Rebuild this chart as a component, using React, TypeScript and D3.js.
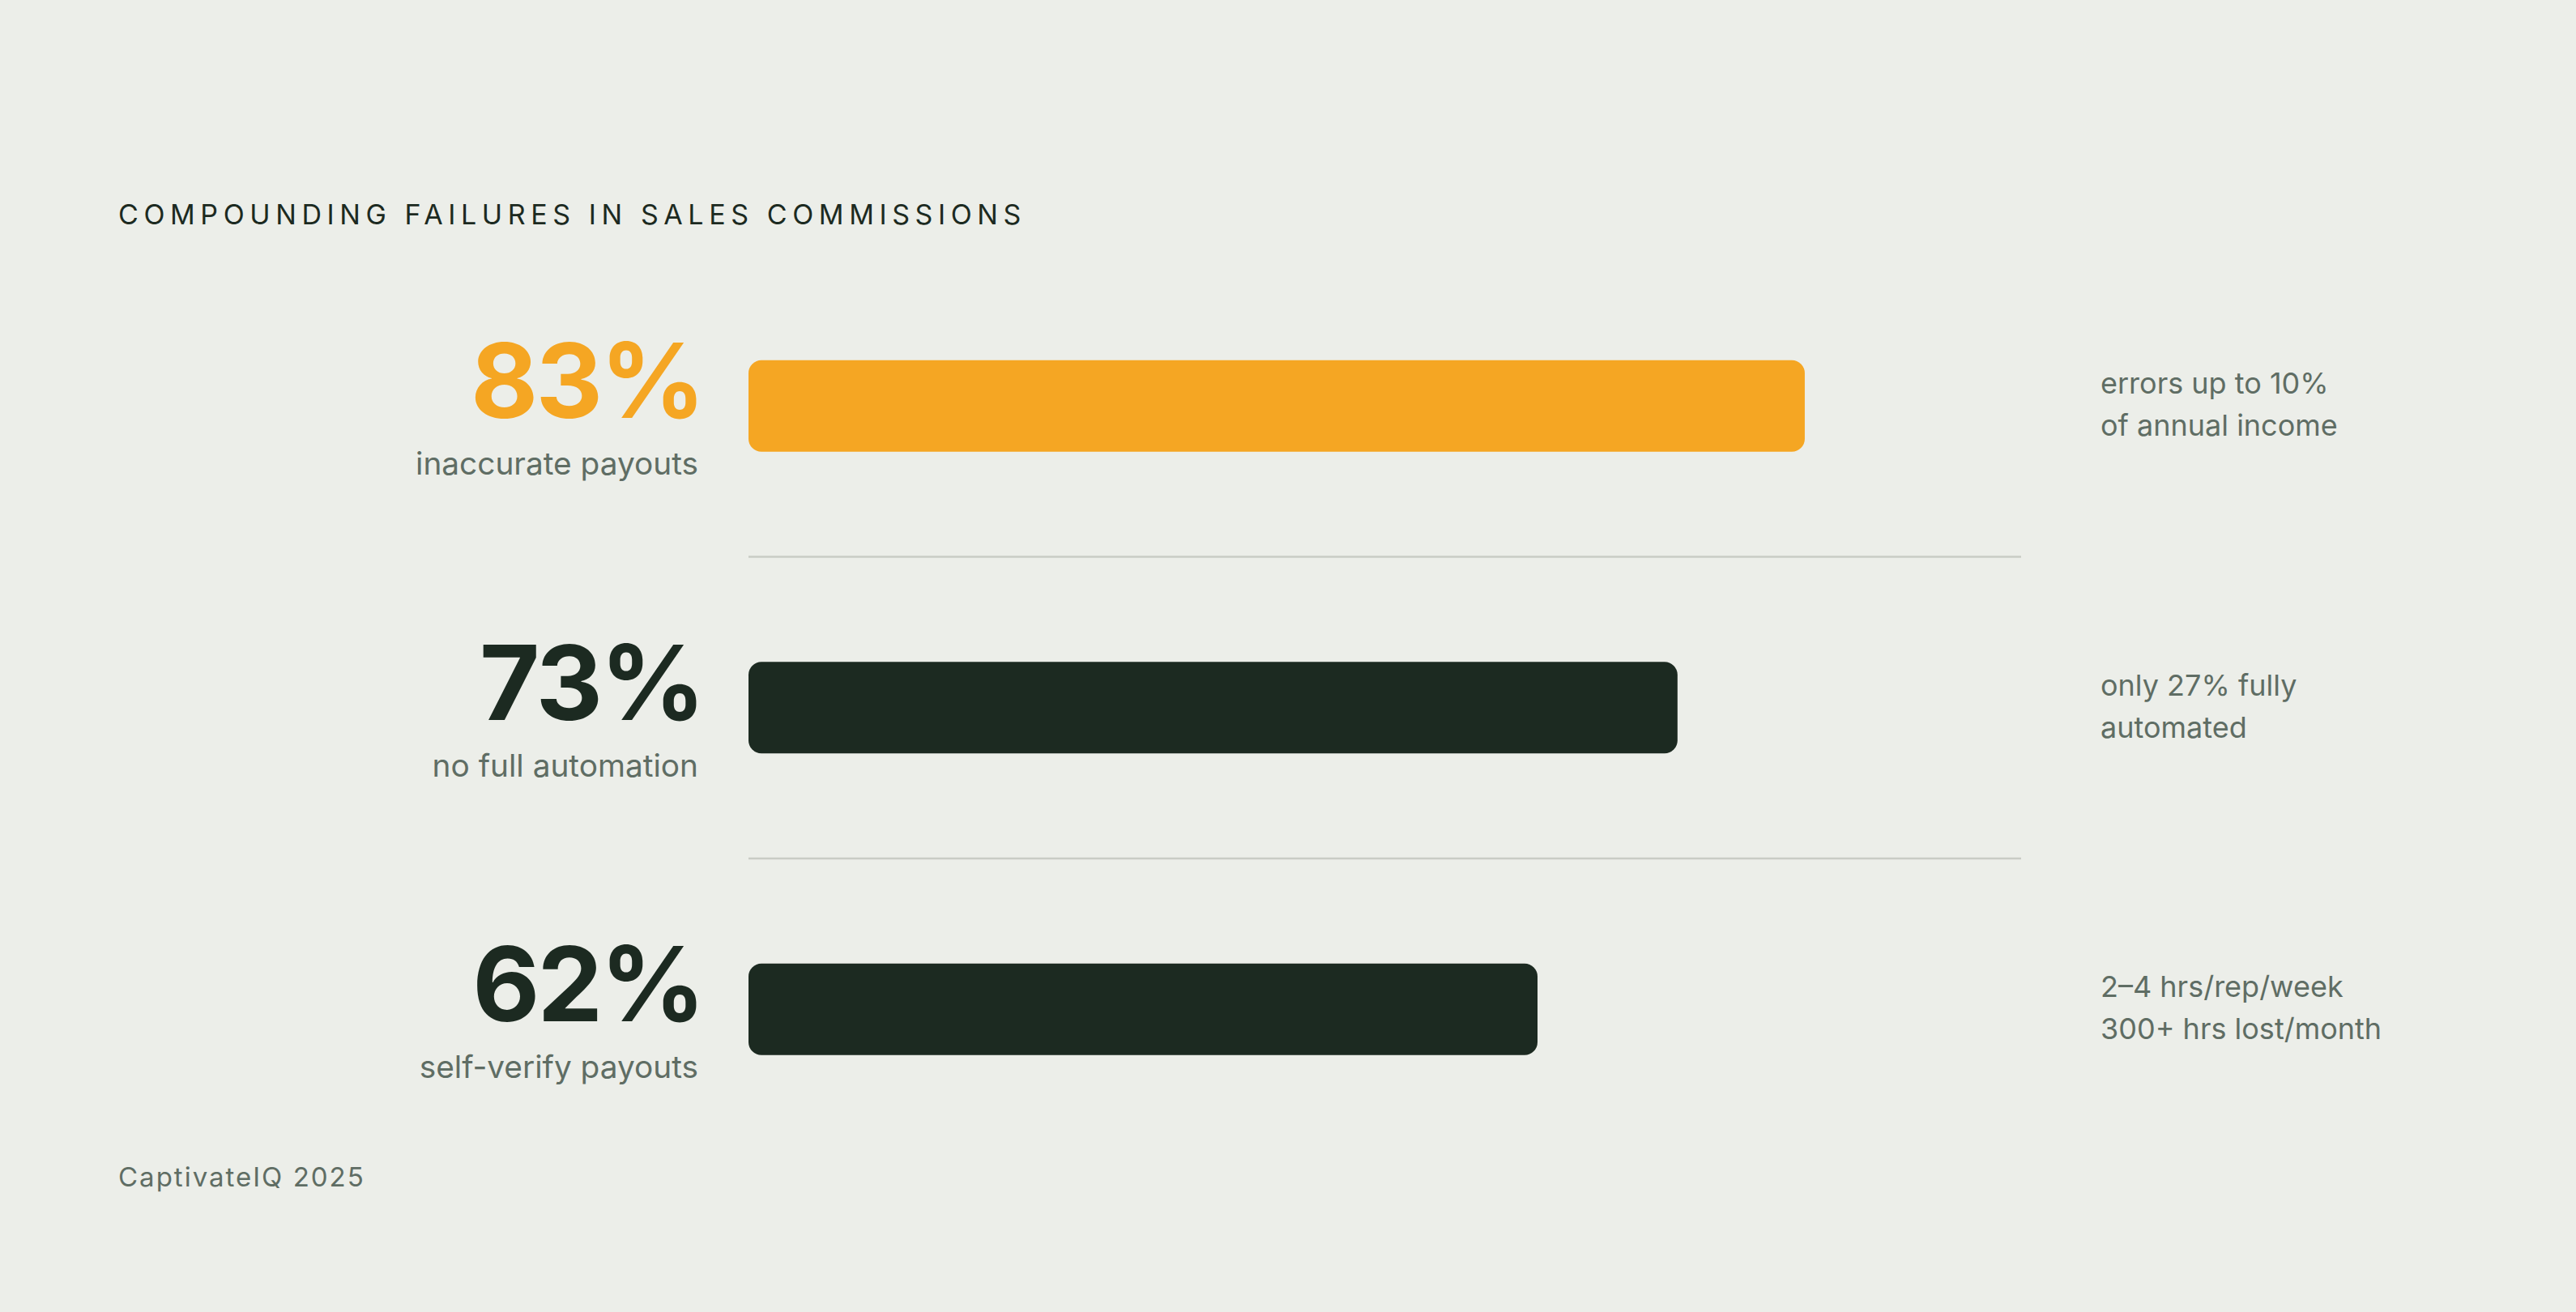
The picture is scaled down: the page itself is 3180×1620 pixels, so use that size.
import React from "react";
import * as d3 from "d3";

const categories = ["inaccurate payouts", "no full automation", "self-verify payouts"];
const values = [83, 73, 62];
const valueLabels = ["83%", "73%", "62%"];
const notes = [
  ["errors up to 10%", "of annual income"],
  ["only 27% fully", "automated"],
  ["2\u20134 hrs/rep/week", "300+ hrs lost/month"],
];
const highlight = [true, false, false];
const title = "COMPOUNDING FAILURES IN SALES COMMISSIONS";
const source = "CaptivateIQ 2025";

const W = 3180;
const H = 1620;
const BG = "#eceee9";
const ORANGE = "#f5a623";
const DARK = "#1c2a21";
const GREY = "#5f6d64";
const FONT = "Inter, 'Noto Sans', sans-serif";

export default function App() {
  const x = d3.scaleLinear().domain([0, 100]).range([924, 2495]);
  const y = d3.scaleBand<string>().domain(categories).range([315, 1432.5]).padding(0);
  const barH = 113;
  const step = y.step();

  return (
    <svg
      width={W}
      height={H}
      viewBox={`0 0 ${W} ${H}`}
      style={{ position: "absolute", left: 0, top: 0, display: "block", background: BG }}
    >
      <rect x={0} y={0} width={W} height={H} fill={BG} />
      <text
        x={146}
        y={277}
        fill={DARK}
        fontFamily={FONT}
        fontSize={34}
        fontWeight={400}
        letterSpacing={6.6}
      >
        {title}
      </text>

      {categories.slice(1).map((c) => (
        <line
          key={"div-" + c}
          x1={x(0)}
          x2={x(100)}
          y1={(y(c) as number)}
          y2={(y(c) as number)}
          stroke="#c9ccc5"
          strokeWidth={2.5}
        />
      ))}

      {categories.map((c, i) => {
        const cy = (y(c) as number) + step / 2;
        const color = highlight[i] ? ORANGE : DARK;
        return (
          <g key={c}>
            <rect
              x={x(0)}
              y={cy - barH / 2}
              width={x(values[i]) - x(0)}
              height={barH}
              rx={16}
              ry={16}
              fill={color}
            />
            <text
              x={868}
              y={cy + 15}
              textAnchor="end"
              fill={color}
              fontFamily={FONT}
              fontSize={128}
              fontWeight={650}
              letterSpacing={-3}
            >
              {valueLabels[i]}
            </text>
            <text
              x={862}
              y={cy + 85}
              textAnchor="end"
              fill={GREY}
              fontFamily={FONT}
              fontSize={38.8}
              fontWeight={400}
            >
              {c}
            </text>
            {notes[i].map((line, j) => (
              <text
                key={j}
                x={2593}
                y={cy - 15 + j * 52}
                fill={GREY}
                fontFamily={FONT}
                fontSize={36}
                fontWeight={400}
              >
                {line}
              </text>
            ))}
          </g>
        );
      })}

      <text
        x={146}
        y={1465}
        fill={GREY}
        fontFamily={FONT}
        fontSize={33}
        fontWeight={400}
        letterSpacing={2}
      >
        {source}
      </text>
    </svg>
  );
}
